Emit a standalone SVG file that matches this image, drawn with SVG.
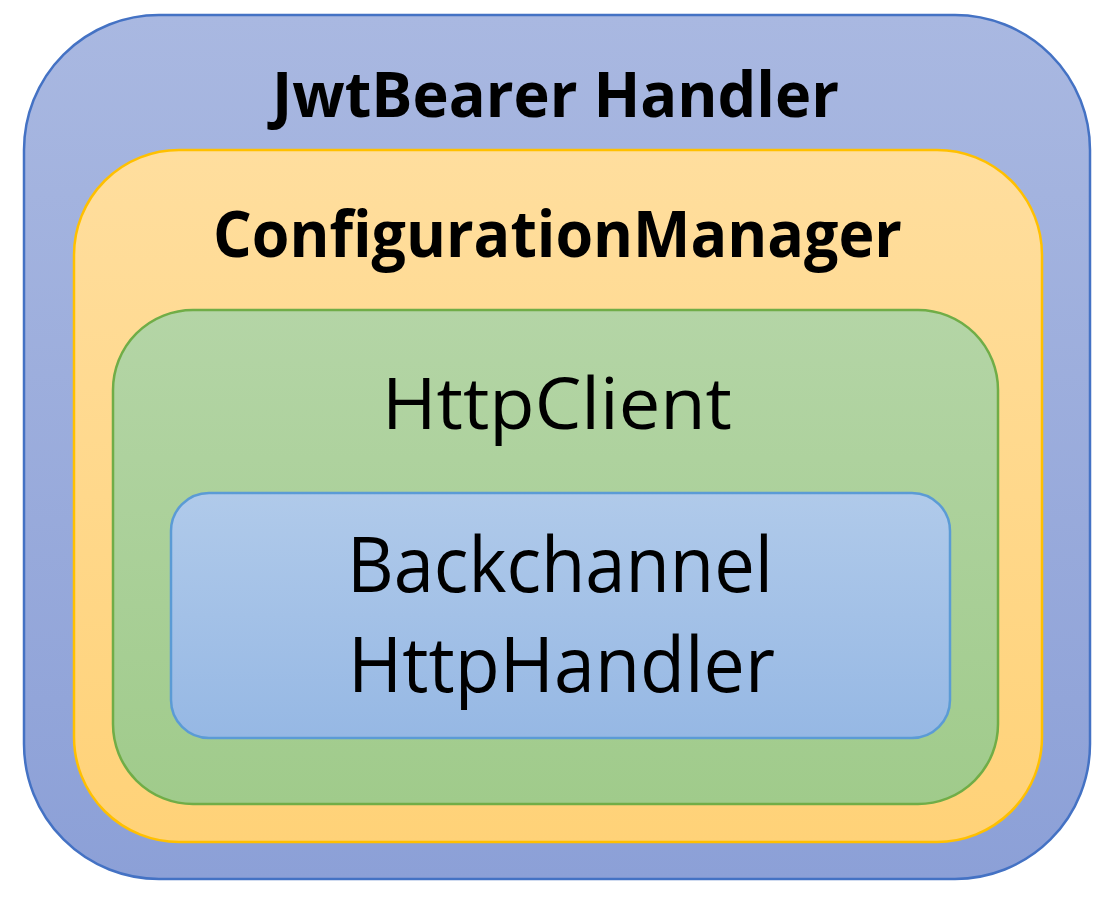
<svg xmlns="http://www.w3.org/2000/svg" width="1115" height="905" viewBox="0 0 1115 905">
  <defs>
    <linearGradient id="gOuter" x1="0" y1="0" x2="0" y2="1">
      <stop offset="0" stop-color="#A9B8E1"/>
      <stop offset="1" stop-color="#8CA0D7"/>
    </linearGradient>
    <linearGradient id="gYellow" x1="0" y1="0" x2="0" y2="1">
      <stop offset="0" stop-color="#FFDE9E"/>
      <stop offset="1" stop-color="#FFD278"/>
    </linearGradient>
    <linearGradient id="gGreen" x1="0" y1="0" x2="0" y2="1">
      <stop offset="0" stop-color="#B4D5A6"/>
      <stop offset="1" stop-color="#A0CB8B"/>
    </linearGradient>
    <linearGradient id="gInner" x1="0" y1="0" x2="0" y2="1">
      <stop offset="0" stop-color="#B0CAEA"/>
      <stop offset="1" stop-color="#96B8E4"/>
    </linearGradient>
  </defs>
  <style>
    .box { stroke-width: 2.5; }
    .bold { font-family: "Open Sans", "Liberation Sans", sans-serif; font-weight: 700; fill: #000; }
    .reg { font-family: "Open Sans", "Liberation Sans", sans-serif; font-weight: 400; fill: #000; }
  </style>
  <rect width="1115" height="905" fill="#FFFFFF"/>
  <g id="jwtbearer-handler">
    <rect class="box" x="24" y="15" width="1066" height="864" rx="135" ry="135" fill="url(#gOuter)" stroke="#4472C4"/>
    <text class="bold" x="272" y="117" font-size="63" textLength="567" lengthAdjust="spacingAndGlyphs">JwtBearer Handler</text>
  </g>
  <g id="configuration-manager">
    <rect class="box" x="74" y="150" width="968" height="692" rx="105" ry="105" fill="url(#gYellow)" stroke="#FFC000"/>
    <text class="bold" x="213" y="257" font-size="65" textLength="689" lengthAdjust="spacingAndGlyphs">ConfigurationManager</text>
  </g>
  <g id="httpclient">
    <rect class="box" x="113" y="310" width="885" height="494" rx="80" ry="80" fill="url(#gGreen)" stroke="#70AD47"/>
    <text class="reg" x="382" y="429" font-size="71" textLength="350" lengthAdjust="spacingAndGlyphs">HttpClient</text>
  </g>
  <g id="backchannel-httphandler">
    <rect class="box" x="171" y="493" width="779" height="245" rx="38" ry="38" fill="url(#gInner)" stroke="#5B9BD5"/>
    <text class="reg" x="347" y="592" font-size="76" textLength="426" lengthAdjust="spacingAndGlyphs">Backchannel</text>
    <text class="reg" x="348" y="692" font-size="76" textLength="427" lengthAdjust="spacingAndGlyphs">HttpHandler</text>
  </g>
  <g id="connectors"/>
</svg>
